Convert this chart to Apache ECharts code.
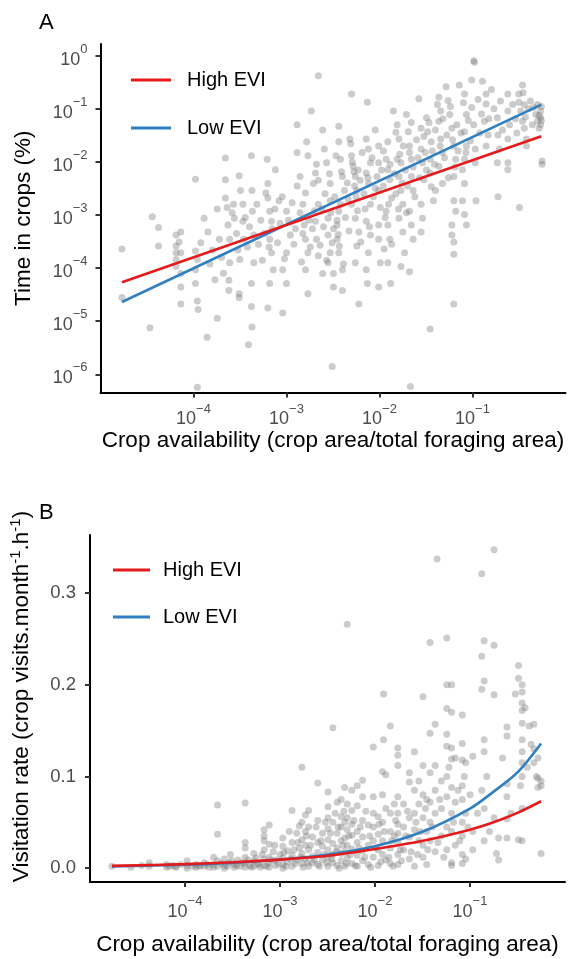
<!DOCTYPE html>
<html>
<head>
<meta charset="utf-8">
<script src="https://cdn.jsdelivr.net/npm/echarts@6/dist/echarts.min.js"></script>
<style>
html,body{margin:0;padding:0;background:#fff;}
#chart{width:569px;height:959px;}
</style>
</head>
<body>
<div id="chart"></div>
<script>
// ---------- data ----------
const xTickValues = [1e-4, 1e-3, 1e-2, 1e-1];
const timeTickValues = [1e-6, 1e-5, 1e-4, 1e-3, 1e-2, 1e-1, 1];
const rateTickValues = [0, 0.1, 0.2, 0.3];
const seriesNames = ['High EVI', 'Low EVI'];

// Panel A: time in crops (%) vs crop availability
const timePoints = [
[1.7e-5,2.3e-4],[1.7e-5,2.8e-5],[3.4e-5,7.5e-6],[3.6e-5,9.3e-4],[4.2e-5,5.8e-4],[4.2e-5,2.6e-4],
[6.5e-5,4.2e-4],[6.5e-5,2.6e-4],[6.5e-5,1.95e-4],[6.5e-5,1.45e-4],[6.5e-5,1.07e-4],[7e-5,3.1e-4],
[7.3e-5,4.8e-4],[7.3e-5,1.95e-4],[7.3e-5,7.9e-5],[7.3e-5,4.4e-5],[7.3e-5,2.1e-5],[1.05e-4,4.7e-3],
[1.05e-4,2.1e-4],[1.1e-4,1.45e-4],[1.05e-4,9.3e-5],[1.05e-4,5.1e-5],[1.1e-4,2.4e-5],[1.12e-4,1.66e-5],
[1.4e-4,5e-6],[1.8e-4,1.14e-5],[1.1e-4,5.7e-7],[1.3e-4,8.7e-4],[1.43e-4,4.8e-4],[2.2e-4,1.18e-2],
[2.2e-4,4.6e-3],[2.2e-4,2.1e-3],[2.3e-4,1.38e-3],[2.35e-4,6.5e-4],[2.45e-4,3.5e-4],[2.45e-4,1.26e-4],
[2.4e-4,5.9e-5],[2.4e-4,3.8e-5],[2.7e-4,1.6e-3],[2.75e-4,8.7e-4],[3.1e-4,5.5e-3],[3.2e-4,2.9e-3],
[3.4e-4,1.6e-3],[3.4e-4,7.6e-4],[3.45e-4,3.5e-4],[3.15e-4,1.45e-4],[3.1e-4,3.3e-5],[3.1e-4,2.8e-5],
[3.9e-4,3.6e-6],[4.2e-4,1.3e-2],[4.25e-4,2.9e-3],[4.3e-4,1.18e-3],[4.45e-4,4.2e-4],[4.45e-4,1.26e-4],
[4.2e-4,5.1e-5],[4.2e-4,1.9e-5],[4.25e-4,7.8e-6],[6.2e-4,1.12e-2],[6.3e-4,3.9e-3],[6.3e-4,2.1e-3],
[6.6e-4,1.18e-3],[6.9e-4,7.6e-4],[6.6e-4,3.5e-4],[6.9e-4,1.95e-4],[7.2e-4,9.3e-5],[6.6e-4,5.1e-5],
[6.3e-4,1.78e-5],[9.1e-4,1.42e-5],[7.6e-4,7.1e-3],[8.3e-4,1.85e-3],[1e-3,1.18e-3],[1.1e-3,4.2e-4],
[1e-3,1.95e-4],[9.1e-4,9.3e-5],[1e-3,5.1e-5],[1.3e-3,5e-2],[1.3e-3,1.5e-2],[1.4e-3,5.3e-3],
[1.5e-3,1.6e-3],[1.55e-3,6.5e-4],[1.6e-3,3.5e-4],[1.7e-3,1.95e-4],[1.6e-3,9.3e-5],[1.7e-3,3.3e-5],
[1.85e-3,9.1e-2],[1.65e-3,2.4e-2],[1.7e-3,1.3e-2],[2.05e-3,6.2e-3],[1.95e-3,3.9e-3],[2.2e-3,1.6e-3],
[2.05e-3,7.6e-4],[2.1e-3,3.5e-4],[2.2e-3,1.7e-4],[2.45e-3,7.9e-5],[2.2e-3,0.42],[2.45e-3,4e-2],
[2.55e-3,1.75e-2],[2.7e-3,9.6e-3],[2.95e-3,3.9e-3],[2.95e-3,1.85e-3],[2.8e-3,8.7e-4],[2.8e-3,4.2e-4],
[2.95e-3,1.95e-4],[2.8e-3,1.26e-4],[3.2e-3,7.9e-5],[3.2e-3,4.4e-5],[3.1e-3,1.4e-6],[3.65e-3,4.7e-2],
[3.65e-3,2.4e-2],[3.8e-3,1.12e-2],[4e-3,5.3e-3],[4.2e-3,2.9e-3],[3.65e-3,1.18e-3],[3.5e-3,6.5e-4],
[3.5e-3,3.5e-4],[3.65e-3,1.95e-4],[4e-3,9.3e-5],[4e-3,3.8e-5],[5e-3,0.19],[4.8e-3,2.7e-2],
[5e-3,1.3e-2],[5.2e-3,8.3e-3],[5.5e-3,5.3e-3],[5.7e-3,2.9e-3],[5e-3,1.6e-3],[5.5e-3,8.7e-4],
[6e-3,4.8e-4],[5.7e-3,2.6e-4],[5.5e-3,1.26e-4],[6e-3,2.1e-5],[7.4e-3,0.133],[7.2e-3,2.7e-2],
[7.6e-3,1.75e-2],[8e-3,9.6e-3],[7.2e-3,6.2e-3],[7.6e-3,3.9e-3],[8e-3,1.6e-3],[7.2e-3,7.6e-4],
[8e-3,4.2e-4],[7.6e-3,1.95e-4],[7.2e-3,9.3e-5],[7.4e-3,5.1e-5],[9.8e-3,2e-2],[9.8e-3,9.6e-3],
[9.4e-3,5.3e-3],[9.8e-3,2.9e-3],[1.02e-2,1.38e-3],[9.8e-3,6.5e-4],[9.8e-3,3.5e-4],[1.02e-2,1.26e-4],
[9.8e-3,4.4e-5],[1.23e-2,2.4e-2],[1.18e-2,1.12e-2],[1.23e-2,7.1e-3],[1.29e-2,4.6e-3],[1.35e-2,2.1e-3],
[1.18e-2,1.18e-3],[1.23e-2,6.5e-4],[1.29e-2,3.5e-4],[1.12e-2,2.3e-4],[1.23e-2,1.26e-4],[1.32e-2,5.1e-5],
[1.41e-2,9.1e-2],[1.55e-2,5e-2],[1.62e-2,2.7e-2],[1.55e-2,1.12e-2],[1.7e-2,9.6e-3],[1.62e-2,5.3e-3],
[1.7e-2,2.9e-3],[1.78e-2,1.6e-3],[1.62e-2,8.7e-4],[1.78e-2,4.8e-4],[1.86e-2,1.95e-4],[1.7e-2,1.07e-4],
[2.15e-2,5.9e-7],[1.95e-2,7.8e-2],[2.04e-2,3.7e-2],[2.1e-2,2e-2],[2.2e-2,1.12e-2],[2.2e-2,5.3e-3],
[2.3e-2,2.9e-3],[2.1e-2,1.18e-3],[2.2e-2,6.5e-4],[2.3e-2,3.5e-4],[2.1e-2,8.5e-5],[2.65e-2,0.154],
[2.8e-2,4.3e-2],[2.8e-2,1.75e-2],[2.9e-2,9.6e-3],[3e-2,4.6e-3],[2.8e-2,1.6e-3],[2.9e-2,8.7e-4],
[2.8e-2,4.8e-4],[3.5e-2,7.1e-6],[3.2e-2,6.8e-2],[3.3e-2,3.7e-2],[3.6e-2,2.4e-2],[3.5e-2,1.12e-2],
[3.5e-2,6.2e-3],[3.6e-2,3.4e-3],[3.8e-2,1.85e-3],[4.35e-2,0.165],[4.55e-2,9.1e-2],[4.35e-2,5.8e-2],
[4.55e-2,2.7e-2],[4.75e-2,1.5e-2],[4.35e-2,8.3e-3],[4.75e-2,3.9e-3],[4e-2,2.9e-3],[6.3e-2,2.1e-5],
[5.2e-2,0.26],[5.45e-2,0.143],[5.7e-2,7.8e-2],[6e-2,4.3e-2],[6.3e-2,2e-2],[6.6e-2,1.12e-2],
[6.3e-2,5.3e-3],[6.3e-2,1.85e-3],[6.6e-2,1.18e-3],[6e-2,6.5e-4],[6e-2,4.2e-4],[6.3e-2,3.1e-4],
[6.3e-2,1.82e-4],[8.2e-2,0.19],[8.6e-2,7.8e-2],[8.2e-2,3.7e-2],[8.6e-2,2e-2],[8.2e-2,1.12e-2],
[7.8e-2,7.1e-3],[8.2e-2,3.9e-3],[7.8e-2,1.85e-3],[8.2e-2,1.02e-3],[8.6e-2,6.5e-4],[0.103,0.8],
[0.098,0.35],[0.098,0.106],[0.103,5e-2],[0.107,1.75e-2],[0.107,9.6e-3],[0.109,1.85e-3],
[0.128,0.33],[0.14,0.19],[0.14,0.123],[0.134,5.8e-2],[0.147,3.2e-2],[0.14,2e-2],
[0.185,6.8e-2],[0.188,3.2e-2],[0.194,1.75e-2],[0.185,9.6e-3],[0.188,2.2e-3],[0.24,0.19],
[0.24,9.1e-2],[0.25,5e-2],[0.24,2.7e-2],[0.24,9.6e-3],[0.24,7.1e-3],[0.315,0.19],
[0.315,0.133],[0.345,0.28],[0.33,9.1e-2],[0.345,5.8e-2],[0.36,4.3e-2],[0.38,2.7e-2],
[0.38,2e-2],[0.32,1.38e-3],[0.455,0.106],[0.48,7.8e-2],[0.5,5.8e-2],[0.52,4.3e-2],
[0.54,9.1e-2],[0.54,6.8e-2],[0.54,5e-2],[0.56,1.04e-2],[0.56,9e-3],
[1.2e-4,3e-4],[1.5e-4,1.2e-4],[1.6e-4,2.2e-4],[1.7e-4,6e-5],[1.9e-4,3.5e-4],[2e-4,1.6e-4],[2.1e-4,8e-5],
[1.8e-4,1.3e-3],[2.6e-4,1.1e-3],[2.9e-4,4.5e-4],[3e-4,2.2e-4],[3.6e-4,9e-4],[3.8e-4,2.5e-4],[4e-4,6e-4],
[4.8e-4,1.6e-3],[5e-4,2.8e-4],[5.3e-4,8e-4],[5.5e-4,1.4e-4],[5.8e-4,4.5e-4],[6e-4,2.6e-3],[6.5e-4,2.5e-4],
[7e-4,5.5e-4],[7.5e-4,1.3e-3],[8e-4,3e-4],[8.5e-4,7e-4],[9e-4,2.2e-3],[9.5e-4,1.5e-4],[1.05e-3,8e-4],
[1.15e-3,1.7e-3],[1.2e-3,2.8e-4],[1.25e-3,5.5e-4],[1.3e-3,3.5e-3],[1.4e-3,1.1e-3],[1.45e-3,1.3e-4],
[1.5e-3,4.5e-4],[1.6e-3,2.6e-3],[1.75e-3,8e-4],[1.8e-3,2.5e-4],[1.9e-3,5.5e-4],[2e-3,1.2e-3],[2.1e-3,9e-3],
[2.2e-3,4.5e-3],[2.3e-3,2.7e-4],[2.4e-3,1.3e-3],[2.5e-3,6e-4],[2.6e-3,2.5e-3],[2.7e-3,1.4e-4],[2.9e-3,6e-3],
[3e-3,1.1e-3],[3.1e-3,3e-4],[3.2e-3,5.5e-4],[3.3e-3,2.2e-3],[3.4e-3,1.3e-2],[3.5e-3,8e-4],[3.6e-3,4.3e-4],
[3.7e-3,2.6e-4],[3.8e-3,1.6e-3],[3.9e-3,6.5e-3],[4.1e-3,1.2e-4],[4.3e-3,9e-4],[4.5e-3,4e-3],[4.6e-3,2e-3],
[4.7e-3,5e-4],[4.9e-3,2.2e-2],[5.1e-3,1e-2],[5.3e-3,6.5e-3],[5.4e-3,3.5e-3],[5.6e-3,2.2e-3],[5.8e-3,1.2e-3],
[5.9e-3,7e-3],[6.2e-3,4.5e-3],[6.3e-3,3.1e-4],[6.5e-3,1.5e-2],[6.8e-3,2.5e-3],[7e-3,1.3e-3],[7.5e-3,5e-3],
[7.8e-3,6e-4],[8.3e-3,1.2e-2],[8.6e-3,2.2e-3],[9e-3,3.2e-3],[9e-3,4e-2],[1.05e-2,7e-3],[1.1e-2,1.6e-2],
[1.1e-2,3.5e-3],[1.15e-2,9e-4],[1.25e-2,1.6e-3],[1.3e-2,9e-3],[1.35e-2,2.8e-4],[1.45e-2,6e-3],[1.5e-2,2.5e-3],
[1.5e-2,3.6e-2],[1.6e-2,1.3e-3],[1.65e-2,1.4e-2],[1.75e-2,4e-3],[1.8e-2,2e-2],[1.9e-2,7e-3],[1.95e-2,1.1e-3],
[2e-2,3.5e-3],[2.1e-2,1.5e-2],[2.2e-2,5.5e-2],[2.3e-2,8e-3],[2.4e-2,2.2e-3],[2.5e-2,2.6e-2],[2.6e-2,1.2e-2],
[2.7e-2,5e-3],[3e-2,3e-2],[3.1e-2,1.5e-2],[3.2e-2,7e-3],[3.4e-2,5.5e-2],[3.7e-2,1.6e-2],[3.9e-2,9e-3],
[4e-2,4e-2],[4.2e-2,0.12],[4.5e-2,2e-2],[4.8e-2,6.5e-2],[5e-2,1.2e-2],[5.3e-2,3.2e-2],[5.5e-2,5e-3],
[5.8e-2,0.11],[6.1e-2,2.6e-2],[6.5e-2,8e-3],[6.8e-2,5e-2],[7e-2,1.6e-2],[7.2e-2,0.28],[7.5e-2,3.5e-2],
[8e-2,0.13],[8.5e-2,1.5e-2],[9e-2,6e-2],[9.5e-2,2.5e-2],[0.105,0.75],[0.115,0.15],[0.12,3.5e-2],
[0.125,8e-2],[0.15,6.5e-2],[0.16,0.23],[0.17,0.1],[0.2,0.14],[0.21,4e-2],[0.27,0.12],[0.29,6.5e-2],
[0.3,3.5e-2],[0.35,0.2],[0.36,0.12],[0.37,7e-2],[0.4,0.1],[0.42,0.14],[0.44,0.05],[0.5,0.12],
[0.52,7.5e-2],[0.55,0.11],[0.55,6e-2]
];

// Panel A fitted lines (end points, straight on log-log axes)
const timeFitX = [1.7e-5, 0.55];
const timeHighY = [5.4e-5, 0.0305];
const timeLowY = [2.3e-5, 0.12];

// Panel B: visitation rate vs crop availability
const ratePoints = [
[1.7e-5,0.002],[2.7e-5,0.001],[3.5e-5,0.003],[4.2e-5,0.006],[4.2e-5,0.002],[6.4e-5,0.004],[6.4e-5,0.001],
[6.8e-5,0.002],[7.4e-5,0.003],[8e-5,0.002],[1.05e-4,0.008],[1.05e-4,0.003],[1.05e-4,0.0],[1.2e-4,0.002],
[1.3e-4,0.004],[1.3e-4,0.001],[1.45e-4,0.003],[1.6e-4,0.006],[1.6e-4,0.002],[1.8e-4,0.001],[2e-4,0.012],
[2e-4,0.004],[2e-4,0.001],[2.2e-4,0.008],[2.2e-4,0.002],[2.2e-4,0.069],[2.2e-4,0.037],[2.4e-4,0.005],
[2.6e-4,0.01],[2.6e-4,0.003],[2.6e-4,0.0],[2.9e-4,0.006],[3e-4,0.015],[3.3e-4,0.004],[3.3e-4,0.001],
[3.6e-4,0.009],[3.8e-4,0.002],[4.3e-4,0.071],[4.3e-4,0.028],[4.3e-4,0.022],[4.3e-4,0.012],[4.3e-4,0.005],
[4.3e-4,0.001],[4.8e-4,0.003],[5.3e-4,0.016],[5.3e-4,0.008],[5.3e-4,0.002],[5.8e-4,0.005],[6.2e-4,0.001],
[6.8e-4,0.042],[6.8e-4,0.035],[6.8e-4,0.03],[6.8e-4,0.02],[6.8e-4,0.01],[6.8e-4,0.003],[7.7e-4,0.047],
[7.7e-4,0.026],[7.7e-4,0.012],[7.7e-4,0.006],[7.7e-4,0.001],[8.5e-4,0.018],[9e-4,0.009],[9e-4,0.003],
[1e-3,0.015],[1.07e-3,0.033],[1.07e-3,0.024],[1.07e-3,0.011],[1.07e-3,0.004],[1.07e-3,0.0],[1.2e-3,0.019],
[1.2e-3,0.007],[1.34e-3,0.063],[1.34e-3,0.028],[1.34e-3,0.014],[1.34e-3,0.002],[1.5e-3,0.038],[1.5e-3,0.009],
[1.6e-3,0.046],[1.6e-3,0.022],[1.7e-3,0.11],[1.7e-3,0.05],[1.7e-3,0.031],[1.7e-3,0.016],[1.7e-3,0.005],
[1.85e-3,0.058],[1.85e-3,0.04],[1.85e-3,0.025],[1.85e-3,0.01],[2e-3,0.063],[2e-3,0.045],[2e-3,0.02],
[2e-3,0.002],[2.2e-3,0.034],[2.2e-3,0.013],[2.2e-3,0.006],[2.5e-3,0.093],[2.5e-3,0.052],[2.5e-3,0.028],
[2.5e-3,0.017],[2.5e-3,0.004],[2.8e-3,0.038],[2.8e-3,0.024],[2.8e-3,0.009],[3.2e-3,0.083],[3.2e-3,0.067],
[3.2e-3,0.055],[3.2e-3,0.043],[3.2e-3,0.031],[3.2e-3,0.02],[3.2e-3,0.012],[3.2e-3,0.002],[3.6e-3,0.153],
[3.6e-3,0.05],[3.6e-3,0.027],[3.6e-3,0.015],[3.6e-3,0.006],[4e-3,0.072],[4e-3,0.038],[4e-3,0.022],
[4e-3,0.003],[4.4e-3,0.075],[4.4e-3,0.056],[4.4e-3,0.045],[4.4e-3,0.03],[4.4e-3,0.016],[4.4e-3,0.008],
[4.8e-3,0.088],[4.8e-3,0.05],[4.8e-3,0.033],[4.8e-3,0.018],[4.8e-3,0.002],[5.1e-3,0.266],[5.1e-3,0.07],
[5.1e-3,0.055],[5.1e-3,0.042],[5.1e-3,0.025],[5.1e-3,0.011],[5.7e-3,0.085],[5.7e-3,0.063],[5.7e-3,0.048],
[5.7e-3,0.036],[5.7e-3,0.021],[5.7e-3,0.005],[6.5e-3,0.09],[6.5e-3,0.068],[6.5e-3,0.04],[6.5e-3,0.028],
[6.5e-3,0.014],[6.5e-3,0.002],[7.4e-3,0.096],[7.4e-3,0.078],[7.4e-3,0.052],[7.4e-3,0.034],[7.4e-3,0.019],
[7.4e-3,0.008],[8.5e-3,0.047],[8.5e-3,0.025],[8.5e-3,0.004],[9.6e-3,0.132],[9.6e-3,0.078],[9.6e-3,0.06],
[9.6e-3,0.045],[9.6e-3,0.03],[9.6e-3,0.012],[1.08e-2,0.056],[1.08e-2,0.037],[1.08e-2,0.02],[1.08e-2,0.003],
[1.2e-2,0.105],[1.2e-2,0.08],[1.2e-2,0.05],[1.2e-2,0.03],[1.2e-2,0.015],[1.23e-2,0.19],[1.23e-2,0.14],
[1.3e-2,0.102],[1.3e-2,0.065],[1.3e-2,0.009],[1.45e-2,0.155],[1.45e-2,0.06],[1.45e-2,0.04],[1.45e-2,0.022],
[1.45e-2,0.005],[1.6e-2,0.07],[1.6e-2,0.035],[1.74e-2,0.131],[1.74e-2,0.123],[1.74e-2,0.112],[1.74e-2,0.078],
[1.74e-2,0.06],[1.74e-2,0.048],[1.74e-2,0.038],[1.74e-2,0.028],[1.74e-2,0.015],[1.74e-2,0.004],[2e-2,0.07],
[2e-2,0.045],[2e-2,0.02],[2.3e-2,0.104],[2.3e-2,0.094],[2.3e-2,0.055],[2.3e-2,0.034],[2.3e-2,0.01],
[2.6e-2,0.127],[2.6e-2,0.085],[2.6e-2,0.06],[2.6e-2,0.042],[2.6e-2,0.002],[2.9e-2,0.095],[2.9e-2,0.07],
[2.9e-2,0.03],[3.2e-2,0.187],[3.2e-2,0.112],[3.2e-2,0.08],[3.2e-2,0.055],[3.2e-2,0.025],[3.2e-2,0.012],
[3.5e-2,0.075],[3.5e-2,0.04],[3.5e-2,0.004],[3.8e-2,0.246],[3.8e-2,0.147],[3.8e-2,0.104],[3.8e-2,0.072],
[3.8e-2,0.05],[3.8e-2,0.03],[4.3e-2,0.157],[4.3e-2,0.112],[4.3e-2,0.085],[4.3e-2,0.06],[4.3e-2,0.018],
[4.5e-2,0.337],[5e-2,0.095],[5e-2,0.065],[5e-2,0.035],[5.7e-2,0.251],[5.7e-2,0.2],[5.7e-2,0.174],
[5.7e-2,0.146],[5.7e-2,0.133],[5.7e-2,0.1],[5.7e-2,0.078],[5.7e-2,0.045],[5.7e-2,0.02],[6.4e-2,0.2],
[6.4e-2,0.17],[6.4e-2,0.131],[6.4e-2,0.119],[6.4e-2,0.088],[6.4e-2,0.06],[6.4e-2,0.04],[6.4e-2,0.006],
[6.4e-2,0.003],[7e-2,0.12],[7e-2,0.072],[7e-2,0.025],[8.3e-2,0.167],[8.3e-2,0.136],[8.3e-2,0.118],
[8.3e-2,0.09],[8.3e-2,0.075],[8.3e-2,0.05],[8.3e-2,0.035],[8.3e-2,0.015],[8.3e-2,0.005],[9e-2,0.115],
[9e-2,0.06],[9e-2,0.01],[0.1,0.08],[0.107,0.122],[0.107,0.04],[0.107,0.02],[0.133,0.321],[0.133,0.231],
[0.133,0.195],[0.133,0.085],[0.141,0.248],[0.141,0.204],[0.141,0.14],[0.141,0.127],[0.141,0.065],
[0.141,0.03],[0.179,0.347],[0.179,0.243],[0.179,0.189],[0.179,0.055],[0.19,0.016],[0.2,0.009],[0.2,0.033],
[0.245,0.154],[0.245,0.144],[0.245,0.092],[0.245,0.078],[0.245,0.054],[0.245,0.033],[0.324,0.221],
[0.324,0.207],[0.324,0.031],[0.354,0.2],[0.354,0.192],[0.354,0.18],[0.354,0.172],[0.354,0.158],
[0.354,0.14],[0.354,0.127],[0.354,0.115],[0.354,0.1],[0.354,0.065],[0.354,0.03],[0.42,0.155],
[0.47,0.157],[0.47,0.13],[0.47,0.115],[0.52,0.12],[0.52,0.098],[0.52,0.088],[0.56,0.095],[0.56,0.09],
[0.56,0.016],
[8e-5,0.001],[9e-5,0.004],[1.4e-4,0.002],[1.7e-4,0.004],[2.8e-4,0.002],[3.1e-4,0.008],[3.5e-4,0.003],
[4e-4,0.006],[4.6e-4,0.009],[5e-4,0.001],[5.6e-4,0.011],[6e-4,0.004],[6.5e-4,0.015],[7.2e-4,0.002],
[8e-4,0.009],[8.8e-4,0.025],[9.5e-4,0.005],[1.1e-3,0.017],[1.15e-3,0.002],[1.25e-3,0.04],[1.3e-3,0.01],
[1.4e-3,0.02],[1.45e-3,0.005],[1.55e-3,0.028],[1.65e-3,0.012],[1.75e-3,0.001],[1.9e-3,0.035],[1.95e-3,0.006],
[2.1e-3,0.025],[2.3e-3,0.009],[2.4e-3,0.045],[2.6e-3,0.002],[2.7e-3,0.03],[2.9e-3,0.015],[3e-3,0.05],
[3.1e-3,0.006],[3.4e-3,0.038],[3.5e-3,0.01],[3.8e-3,0.06],[3.9e-3,0.018],[4.1e-3,0.045],[4.2e-3,0.0],
[4.6e-3,0.025],[4.7e-3,0.062],[5e-3,0.005],[5.3e-3,0.035],[5.5e-3,0.015],[6e-3,0.052],[6.2e-3,0.003],
[6.8e-3,0.022],[7e-3,0.045],[7.8e-3,0.012],[8e-3,0.062],[8.8e-3,0.035],[9e-3,0.001],[1.02e-2,0.022],
[1.1e-2,0.048],[1.15e-2,0.007],[1.25e-2,0.04],[1.4e-2,0.012],[1.5e-2,0.03],[1.55e-2,0.002],[1.65e-2,0.052],
[1.85e-2,0.02],[1.9e-2,0.008],[2.1e-2,0.035],[2.2e-2,0.062],[2.4e-2,0.018],[2.7e-2,0.05],[2.8e-2,0.015],
[3e-2,0.04],[3.4e-2,0.065],[3.6e-2,0.02],[4e-2,0.045],[4.6e-2,0.028],[4.8e-2,0.075],[5.3e-2,0.012],
[6e-2,0.11],[6.7e-2,0.05],[7.5e-2,0.085],[7.8e-2,0.03],[8.7e-2,0.1],[9.5e-2,0.045],[0.12,0.06],
[0.15,0.1],[0.16,0.04],[0.22,0.12],[0.27,0.06],[0.3,0.19],[0.34,0.09],[0.38,0.175],[0.4,0.11],
[0.44,0.135],[0.5,0.1]
];

// Panel B fitted curves
const rateFitX = [1.7e-5, 1e-4, 3.2e-4, 1e-3, 3.2e-3, 1e-2, 3.2e-2, 0.1, 0.18, 0.32, 0.56];
const rateHighY = [0.0025, 0.0044, 0.0065, 0.0094, 0.0136, 0.021, 0.030, 0.042, 0.0503, 0.0606, 0.073];
const rateLowY = [0.002, 0.0038, 0.006, 0.0095, 0.015, 0.024, 0.04, 0.065, 0.084, 0.105, 0.136];

// ---------- chart ----------
const FONT = '"Liberation Sans", Arial, Helvetica, sans-serif';
const RED = '#e41a1c';
const BLUE = '#2f7fc1';
const TICK_GREY = '#4d4d4d';

function zip(xs, ys) { return xs.map((x, i) => [x, ys[i]]); }

function powerLabel(v) {
  const e = Math.round(Math.log10(v));
  const s = e < 0 ? '\u2212' + (-e) : String(e);
  return '{b|10}{s|' + s + '}';
}
const powRich = {
  b: { fontFamily: FONT, fontSize: 18, color: TICK_GREY, verticalAlign: 'bottom', lineHeight: 26 },
  s: { fontFamily: FONT, fontSize: 13, color: TICK_GREY, verticalAlign: 'top', lineHeight: 26 }
};
const axisLineStyle = { show: true, lineStyle: { color: '#000', width: 2 } };
const axisTickStyle = { show: true, length: 5, lineStyle: { color: '#333', width: 2 } };
const nameStyle = { fontFamily: FONT, fontSize: 22.5, color: '#000' };
const xTitle = 'Crop availability (crop area/total foraging area)';

const scatterStyle = { color: '#7a7a7a', opacity: 0.38 };

const chart = echarts.init(document.getElementById('chart'), null, { renderer: 'canvas' });

const option = {
  animation: false,
  backgroundColor: '#fff',
  title: [
    { text: 'A', left: 34, top: 7, textStyle: { fontFamily: FONT, fontSize: 22, fontWeight: 'normal', color: '#000' } },
    { text: 'B', left: 34, top: 497, textStyle: { fontFamily: FONT, fontSize: 22, fontWeight: 'normal', color: '#000' } }
  ],
  legend: [
    {
      left: 126, top: 65, orient: 'vertical', itemWidth: 40, itemHeight: 3, itemGap: 28,
      selectedMode: false,
      data: seriesNames.map(n => ({ name: n, icon: 'rect' })),
      textStyle: { fontFamily: FONT, fontSize: 20, color: '#000', padding: [0, 0, 0, 11] }
    },
    {
      left: 108, top: 555, orient: 'vertical', itemWidth: 37, itemHeight: 3, itemGap: 27,
      selectedMode: false,
      data: seriesNames.map(n => ({ name: n, icon: 'rect' })),
      textStyle: { fontFamily: FONT, fontSize: 20, color: '#000', padding: [0, 0, 0, 8] }
    }
  ],
  grid: [
    { left: 100.5, top: 44, width: 465, height: 348.5, outerBoundsMode: 'none', containLabel: false },
    { left: 90, top: 535, width: 475, height: 347, outerBoundsMode: 'none', containLabel: false }
  ],
  xAxis: [
    {
      type: 'log', gridIndex: 0, min: 1e-5, max: 1, logBase: 10,
      axisLine: axisLineStyle, axisTick: Object.assign({ customValues: xTickValues }, axisTickStyle),
      axisLabel: { customValues: xTickValues, formatter: powerLabel, rich: powRich, margin: 10 },
      splitLine: { show: false }, minorTick: { show: false },
      name: xTitle, nameLocation: 'middle', nameGap: 37, nameTextStyle: nameStyle
    },
    {
      type: 'log', gridIndex: 1, min: 1e-5, max: 1, logBase: 10,
      axisLine: Object.assign({ onZero: false }, axisLineStyle), axisTick: Object.assign({ customValues: xTickValues }, axisTickStyle),
      axisLabel: { customValues: xTickValues, formatter: powerLabel, rich: powRich, margin: 13 },
      splitLine: { show: false },
      name: xTitle, nameLocation: 'middle', nameGap: 51, nameTextStyle: nameStyle
    }
  ],
  yAxis: [
    {
      type: 'log', gridIndex: 0, min: 4.54e-7, max: 1.66, logBase: 10,
      axisLine: axisLineStyle, axisTick: Object.assign({ customValues: timeTickValues }, axisTickStyle),
      axisLabel: { customValues: timeTickValues, formatter: powerLabel, rich: powRich, margin: 13 },
      splitLine: { show: false },
      name: 'Time in crops (%)', nameLocation: 'middle', nameGap: 65, nameTextStyle: nameStyle
    },
    {
      type: 'value', gridIndex: 1, min: -0.01504, max: 0.3632,
      axisLine: axisLineStyle, axisTick: Object.assign({ customValues: rateTickValues }, axisTickStyle),
      axisLabel: {
        customValues: rateTickValues, margin: 14,
        formatter: v => v.toFixed(1),
        fontFamily: FONT, fontSize: 18.5, color: TICK_GREY
      },
      splitLine: { show: false },
      name: 'Visitation rate (crop visits.month{s|-1}.h{s|-1})', nameLocation: 'middle', nameGap: 54,
      nameTextStyle: Object.assign({}, nameStyle, {
        rich: {
          s: { fontFamily: FONT, fontSize: 15, color: '#000', verticalAlign: 'top', lineHeight: 28 }
        },
        lineHeight: 28, verticalAlign: 'bottom', padding: [0, 0, 0, 24]
      })
    }
  ],
  series: [
    {
      type: 'scatter', name: 'points A', xAxisIndex: 0, yAxisIndex: 0, data: timePoints,
      symbol: 'circle', symbolSize: 7, itemStyle: scatterStyle, silent: true, z: 1
    },
    {
      type: 'line', name: 'Low EVI', xAxisIndex: 0, yAxisIndex: 0, data: zip(timeFitX, timeLowY),
      showSymbol: false, symbol: 'none', color: BLUE, lineStyle: { color: BLUE, width: 2.6 }, itemStyle: { color: BLUE }, z: 3
    },
    {
      type: 'line', name: 'High EVI', xAxisIndex: 0, yAxisIndex: 0, data: zip(timeFitX, timeHighY),
      showSymbol: false, symbol: 'none', color: RED, lineStyle: { color: RED, width: 2.6 }, itemStyle: { color: RED }, z: 4
    },
    {
      type: 'scatter', name: 'points B', xAxisIndex: 1, yAxisIndex: 1, data: ratePoints,
      symbol: 'circle', symbolSize: 7, itemStyle: scatterStyle, silent: true, z: 1
    },
    {
      type: 'line', name: 'Low EVI', xAxisIndex: 1, yAxisIndex: 1, data: zip(rateFitX, rateLowY),
      showSymbol: false, symbol: 'none', smooth: 0.3, color: BLUE, lineStyle: { color: BLUE, width: 2.6 }, itemStyle: { color: BLUE }, z: 3
    },
    {
      type: 'line', name: 'High EVI', xAxisIndex: 1, yAxisIndex: 1, data: zip(rateFitX, rateHighY),
      showSymbol: false, symbol: 'none', smooth: 0.3, color: RED, lineStyle: { color: RED, width: 2.6 }, itemStyle: { color: RED }, z: 4
    }
  ]
};
chart.setOption(option);
</script>
</body>
</html>
